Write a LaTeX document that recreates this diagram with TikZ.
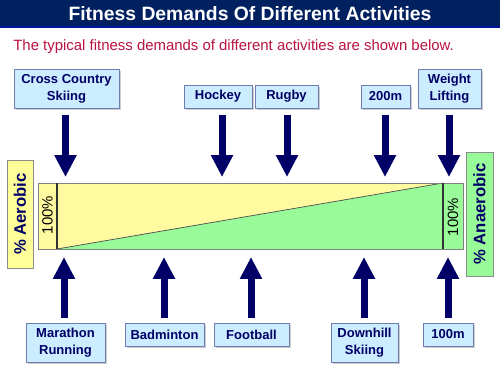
\documentclass[tikz,border=0pt]{standalone}
\usepackage{fontspec}
\setmainfont{Liberation Sans}
\usetikzlibrary{positioning,arrows.meta,shadows}
\definecolor{titlenavy}{RGB}{0,32,96}
\definecolor{arrownavy}{RGB}{0,0,102}
\definecolor{introred}{RGB}{185,18,64}
\definecolor{boxblue}{RGB}{204,236,255}
\definecolor{boxedge}{RGB}{110,125,175}
\definecolor{aeroyellow}{RGB}{255,250,160}
\definecolor{aerolabel}{RGB}{255,255,153}
\definecolor{anaerogreen}{RGB}{153,250,153}
\tikzset{
  act/.style={draw=boxedge, fill=boxblue, align=center, text=arrownavy,
              font=\fontsize{7.4}{9.6}\selectfont\bfseries, inner sep=0pt,
              minimum height=0.46cm,
              drop shadow={shadow xshift=1pt, shadow yshift=-1pt,
                           fill=black!40, opacity=0.5}},
  tall/.style={minimum height=0.78cm},
  push/.style={-{Triangle[length=0.44cm, width=0.42cm]}, line width=0.14cm,
               draw=arrownavy},
  side/.style={draw=black!45, rotate=90, inner sep=0pt, text=arrownavy,
               font=\fontsize{9.5}{11}\selectfont\bfseries},
  pct/.style={font=\fontsize{8.5}{10}\selectfont, inner sep=0pt, rotate=90},
}

\begin{document}
\begin{tikzpicture}[x=0.02cm, y=-0.02cm]
  \useasboundingbox (0,0) rectangle (500,375);
  % heading
  \fill[titlenavy] (0,0) rectangle (500,27);
  \draw[blue!40!titlenavy, line width=0.6pt] (0,27) -- (500,27);
  \node[text=white, font=\fontsize{11}{13}\selectfont\bfseries] (T) at (250,14)
    {Fitness Demands Of Different Activities};
  \node[anchor=west, inner sep=0pt, text=introred,
        font=\fontsize{8.5}{10}\selectfont] (I) at (13,47)
    {The typical fitness demands of different activities are shown below.};

  % aerobic / anaerobic bar
  \fill[aeroyellow] (38,183) -- (443,183) -- (57,249) -- (38,249) -- cycle;
  \fill[anaerogreen] (57,249) -- (443,183) -- (463,183) -- (463,249) -- cycle;
  \draw[black!70, line width=0.4pt] (57,249) -- (443,183);
  \draw[black!50] (38,183) rectangle (463,249);
  \draw[black!80, line width=0.9pt] (57,183) -- (57,249) (443,183) -- (443,249);
  \node[pct] (PL) at (47.5,215) {100\%};
  \node[pct] (PR) at (453,217) {100\%};
  \node[side, fill=aerolabel, minimum width=2.16cm, minimum height=0.52cm]
    (AE) at (20,214) {\% Aerobic};
  \node[side, fill=anaerogreen, minimum width=2.48cm, minimum height=0.54cm]
    (AN) at (479.5,214) {\% Anaerobic};

  % activities above the bar
  \node[act, tall, minimum width=2.1cm] (XC) at (66.5,88.5) {Cross Country\\Skiing};
  \node[act, minimum width=1.36cm] (HO) at (218,96.5) {Hockey};
  \node[act, minimum width=1.26cm] (RU) at (286.5,96.5) {Rugby};
  \node[act, minimum width=0.98cm] (TW) at (385.5,96.5) {200m};
  \node[act, tall, minimum width=1.26cm] (WL) at (449.5,88.5) {Weight\\Lifting};
  \coordinate (XC-in) at (65.5,183);
  \coordinate (HO-in) at (222,183);
  \coordinate (RU-in) at (287,183);
  \coordinate (TW-in) at (385,183);
  \coordinate (WL-in) at (449,183);

  % activities below the bar
  \node[act, tall, minimum width=1.58cm] (MR) at (65.5,342.5) {Marathon\\Running};
  \node[act, minimum width=1.58cm] (BA) at (164.5,334.5) {Badminton};
  \node[act, minimum width=1.5cm] (FO) at (251.5,334.5) {Football};
  \node[act, tall, minimum width=1.34cm] (DS) at (364.5,342.5) {Downhill\\Skiing};
  \node[act, minimum width=1cm] (HU) at (448,334.5) {100m};
  \coordinate (MR-in) at (64,249);
  \coordinate (BA-in) at (164,249);
  \coordinate (FO-in) at (251,249);
  \coordinate (DS-in) at (364,249);
  \coordinate (HU-in) at (448,249);

  \foreach \n in {XC,HO,RU,TW,WL}
    \draw[push, shorten <=0.14cm, shorten >=0.12cm] (\n.south -| \n-in) -- (\n-in);
  \foreach \n in {MR,BA,FO,DS,HU}
    \draw[push, shorten <=0.1cm, shorten >=0.16cm] (\n.north -| \n-in) -- (\n-in);
\end{tikzpicture}
\end{document}
